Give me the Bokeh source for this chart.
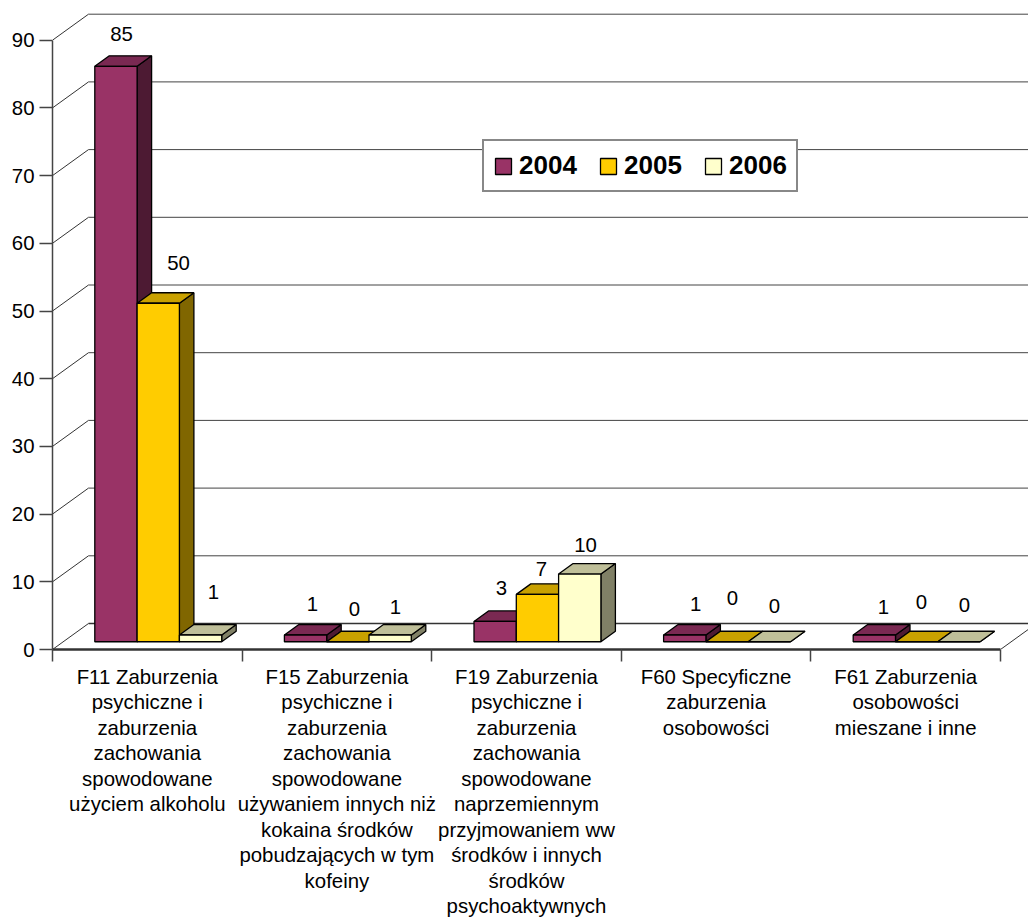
from bokeh.plotting import figure
from bokeh.models import (ColumnDataSource, FixedTicker, Legend, LegendItem, Range1d)
from bokeh.core.properties import value as pvalue
from bokeh.embed import file_html
from bokeh.resources import INLINE

categories = [
    "F11 Zaburzenia\npsychiczne i\nzaburzenia\nzachowania\nspowodowane\nużyciem alkoholu",
    "F15 Zaburzenia\npsychiczne i\nzaburzenia\nzachowania\nspowodowane\nużywaniem innych niż\nkokaina środków\npobudzających w tym\nkofeiny",
    "F19 Zaburzenia\npsychiczne i\nzaburzenia\nzachowania\nspowodowane\nnaprzemiennym\nprzyjmowaniem ww\nśrodków i innych\nśrodków\npsychoaktywnych",
    "F60 Specyficzne\nzaburzenia\nosobowości",
    "F61 Zaburzenia\nosobowości\nmieszane i inne",
]
series_names = ["2004", "2005", "2006"]
values_2004 = [85, 1, 3, 1, 1]
values_2005 = [50, 0, 7, 0, 0]
values_2006 = [1, 1, 10, 0, 0]
y_ticks = [0, 10, 20, 30, 40, 50, 60, 70, 80, 90]

front_colors = ["#993366", "#FFCC00", "#FFFFCC"]
top_colors = ["#7A2952", "#C9A100", "#BFBF99"]
side_colors = ["#4D1A33", "#806600", "#808066"]

# hand-placed data-label offsets in px: centre relative to bar's left-front edge / front top
label_dx = [[26.7, 41.4, 34], [28, 27.8, 26.5], [27.5, 25, 27], [32, 26.6, 26.3], [30.3, 26, 26.7]]
label_dy = [[32.6, 40.5, 43], [31, 33, 28], [33.7, 25.6, 29], [31, 44, 36], [28, 40, 37]]

W, H = 1028, 922
LEFT, BOTTOM_PX = 52, 649          # axis x and y=0 position within the canvas
PX_X, PX_Y = 189.6, 6.77           # px per category, px per value
WALL_DX, WALL_DY = 36 / PX_X, 26 / PX_Y
BAR_W = 42.3 / PX_X
DEPTH_X, DEPTH_Y = 14.5 / PX_X, 10.5 / PX_Y
OFFSET_X = (31.3 + 11) / PX_X
BASE = 7.75 / PX_Y

x_end = (W - LEFT) / PX_X
y_end = BOTTOM_PX / PX_Y

p = figure(width=W, height=H, output_backend="svg", toolbar_location=None,
           x_range=Range1d(0, x_end), y_range=Range1d(0, y_end),
           min_border_left=LEFT, min_border_right=0, min_border_top=0,
           min_border_bottom=H - BOTTOM_PX, outline_line_color=None,
           background_fill_color="white")
p.grid.visible = False

FONT = "Liberation Sans"
FS = "20.4px"

# y axis
ya = p.yaxis[0]
ya.ticker = FixedTicker(ticks=y_ticks)
ya.bounds = (0, 90)
ya.axis_line_color = "#444444"
ya.axis_line_width = 1.5
ya.major_tick_line_color = "#444444"
ya.major_tick_line_width = 1.5
ya.major_tick_out = 13
ya.major_tick_in = 0
ya.minor_tick_out = 0
ya.minor_tick_in = 0
ya.major_label_standoff = 5
ya.major_label_text_font = FONT
ya.major_label_text_font_size = FS
ya.major_label_text_color = "black"

# x axis: labels at category centres, ticks at category boundaries
mids = [i + 0.5 for i in range(len(categories))]
xa = p.xaxis[0]
xa.ticker = FixedTicker(ticks=mids, minor_ticks=[i for i in range(len(categories) + 1)])
xa.bounds = (0, 5)
xa.axis_line_color = "#333333"
xa.axis_line_width = 2.5
xa.major_tick_line_color = None
xa.major_tick_out = 0
xa.major_tick_in = 0
xa.minor_tick_line_color = "#444444"
xa.minor_tick_line_width = 1.5
xa.minor_tick_out = 12
xa.minor_tick_in = 0
xa.major_label_overrides = {m: c for m, c in zip(mids, categories)}
xa.major_label_standoff = 4
xa.major_label_text_font = FONT
xa.major_label_text_font_size = FS
xa.major_label_text_color = "black"
xa.major_label_text_line_height = 1.16

# walls
gx0 = [0 for _ in y_ticks]
gx1 = [WALL_DX for _ in y_ticks]
gy0 = list(y_ticks)
gy1 = [t + WALL_DY for t in y_ticks]
p.segment(gx0, gy0, gx1, gy1, line_color="#333333", line_width=1)
p.segment(gx1[1:], gy1[1:], [x_end + 1 for _ in y_ticks[1:]], gy1[1:], line_color="#444444", line_width=1)
p.segment([WALL_DX], [WALL_DY], [x_end + 1], [WALL_DY], line_color="#333333", line_width=1.5)
p.segment([5], [0], [5 + WALL_DX], [WALL_DY], line_color="#333333", line_width=1)

all_values = [values_2004, values_2005, values_2006]
legend_items = []
label_x, label_y, label_text, label_xo, label_yo = [], [], [], [], []

for g in range(len(categories)):
    for s in range(3):
        v = all_values[s][g]
        left = g + OFFSET_X + s * BAR_W
        label_x.append(left)
        label_y.append(BASE + v)
        label_text.append(str(v))
        label_xo.append(label_dx[g][s])
        label_yo.append(-label_dy[g][s])

for s in range(3):
    lefts = [g + OFFSET_X + s * BAR_W for g in range(5)]
    rights = [l + BAR_W for l in lefts]
    tops = [BASE + v for v in all_values[s]]
    src = ColumnDataSource(dict(left=lefts, right=rights, top=tops, bottom=[BASE] * 5))
    p.patches([[r, r, r + DEPTH_X, r + DEPTH_X] for r in rights],
              [[BASE, t, t + DEPTH_Y, BASE + DEPTH_Y] for t in tops],
              fill_color=side_colors[s], line_color="black", line_width=1.3)
    p.patches([[l, r, r + DEPTH_X, l + DEPTH_X] for l, r in zip(lefts, rights)],
              [[t, t, t + DEPTH_Y, t + DEPTH_Y] for t in tops],
              fill_color=top_colors[s], line_color="black", line_width=1.3)
    q = p.quad(left="left", right="right", top="top", bottom="bottom", source=src,
               fill_color=front_colors[s], line_color="black", line_width=1.3)
    legend_items.append(LegendItem(label=series_names[s], renderers=[q]))

# data labels
lsrc = ColumnDataSource(dict(x=label_x, y=label_y, text=label_text, xo=label_xo, yo=label_yo))
p.text("x", "y", text="text", source=lsrc, x_offset="xo", y_offset="yo",
       text_font=pvalue(FONT), text_font_size=pvalue(FS), text_color="black",
       text_align="center", text_baseline="middle")

legend = Legend(items=legend_items, orientation="horizontal", location=(430, 457),
                label_text_font=FONT, label_text_font_size="26px", label_text_font_style="bold",
                label_text_color="black", glyph_width=20, glyph_height=20, label_standoff=6,
                spacing=21, padding=9, margin=0, label_height=25, label_width=58,
                border_line_color="#111111", border_line_width=2,
                background_fill_color="white", background_fill_alpha=1)
p.add_layout(legend, "center")

open("out.html", "w").write(file_html(p, INLINE))
